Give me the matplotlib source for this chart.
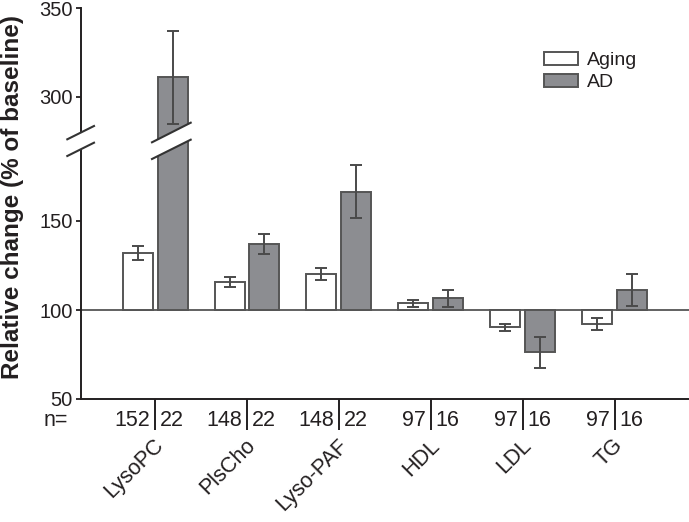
import matplotlib
matplotlib.use("Agg")
import matplotlib.pyplot as plt
import matplotlib.transforms as mtransforms
from matplotlib.lines import Line2D
from matplotlib.patches import Polygon, Patch

plt.rcParams['font.family'] = ['Liberation Sans', 'DejaVu Sans']

categories = ['LysoPC', 'PlsCho', 'Lyso-PAF', 'HDL', 'LDL', 'TG']
aging = [132.0, 115.5, 120.4, 103.8, 90.2, 92.3]
aging_err = [3.7, 2.8, 3.3, 2.0, 2.0, 3.4]
ad = [311.0, 137.2, 166.5, 106.6, 76.2, 111.2]
ad_err = [26.0, 5.7, 15.0, 4.7, 8.7, 9.1]
n_aging = [152, 148, 148, 97, 97, 97]
n_ad = [22, 22, 22, 16, 16, 16]

W, H = 689, 522
INK = '#231f20'
EDGE = '#555555'
GRAY = '#8c8d91'


def px(x, y):
    # pixel position (from top-left) -> figure fraction
    return (x / W, 1 - y / H)


fig = plt.figure(figsize=(W / 100, H / 100), dpi=100)

left = 80.7
y_break = 140.5
y_bottom = 399
scale = 1.78  # pixels per unit
ax_lo = fig.add_axes([left / W, (H - y_bottom) / H, (W - left) / W, (y_bottom - y_break) / H])
ax_hi = fig.add_axes([left / W, (H - y_break) / H, (W - left) / W, (y_break - 8) / H])

x = list(range(len(categories)))
off = 0.19
bw = 0.326
xa = [i - off for i in x]
xd = [i + off for i in x]

for ax in (ax_lo, ax_hi):
    ax.bar(xa, [v - 100 for v in aging], bottom=100, width=bw, color='white',
           edgecolor=EDGE, linewidth=1.4, zorder=2, label='Aging')
    ax.bar(xd, [v - 100 for v in ad], bottom=100, width=bw, color=GRAY,
           edgecolor=EDGE, linewidth=1.4, zorder=2, label='AD')
    ax.errorbar(xa, aging, yerr=aging_err, fmt='none', ecolor='#4a4a4a',
                elinewidth=1.4, capsize=4.1, capthick=1.4, zorder=3)
    ax.errorbar(xd, ad, yerr=ad_err, fmt='none', ecolor='#4a4a4a',
                elinewidth=1.4, capsize=4.1, capthick=1.4, zorder=3)
    ax.set_xlim(-0.81, 5.81)
    ax.spines['top'].set_visible(False)
    ax.spines['right'].set_visible(False)
    ax.spines['left'].set_color(INK)
    ax.spines['left'].set_linewidth(1.4)
    ax.spines['bottom'].set_color(INK)
    ax.spines['bottom'].set_linewidth(1.4)
    ax.tick_params(axis='y', direction='out', length=3.6, width=1.3,
                   color=INK, labelsize=14.5, labelcolor=INK, pad=2)

ax_lo.axhline(100, color='#555555', linewidth=1.3, zorder=1)
ax_lo.set_ylim(50, 50 + (y_bottom - y_break) / scale)
ax_lo.set_yticks([50, 100, 150])
ax_hi.set_ylim(350 - (y_break - 8) / scale, 350)
ax_hi.set_yticks([300, 350])
ax_hi.spines['bottom'].set_visible(False)
ax_hi.set_xticks([])

ax_lo.set_xticks(x)
ax_lo.set_xticklabels([])
ax_lo.tick_params(axis='x', direction='out', length=22, width=1.4, color=INK)

trans = mtransforms.blended_transform_factory(ax_lo.transData, ax_lo.transAxes)
dy = 1 / (y_bottom - y_break)
for i in x:
    ax_lo.text(i - 0.055, -21 * dy, str(n_aging[i]), transform=trans, ha='right',
               va='center', fontsize=15.5, color=INK)
    ax_lo.text(i + 0.055, -21 * dy, str(n_ad[i]), transform=trans, ha='left',
               va='center', fontsize=15.5, color=INK)
    ax_lo.text(i - 0.02, -36 * dy, categories[i], transform=trans, ha='right',
               va='top', rotation=45, rotation_mode='anchor', fontsize=15.5, color=INK)

fig.text(*px(44, 421), 'n=', ha='left', va='center', fontsize=15.5, color=INK)
fig.text(*px(13, 197), 'Relative change (% of baseline)', rotation=90,
         ha='center', va='center', fontsize=17.5, fontweight='bold', color=INK)

# axis break marks
def break_mark(x0, x1, up0, up1, lo0, lo1):
    poly = Polygon([px(x0, up0), px(x1, up1), px(x1, lo1), px(x0, lo0)],
                   closed=True, facecolor='white', edgecolor='none',
                   transform=fig.transFigure)
    fig.add_artist(poly)
    for a, b in ((up0, up1), (lo0, lo1)):
        p0, p1 = px(x0, a), px(x1, b)
        fig.add_artist(Line2D([p0[0], p1[0]], [p0[1], p1[1]], color='#333333',
                              linewidth=1.5, transform=fig.transFigure))


break_mark(67.3, 94.0, 139.3, 126.0, 156.0, 142.7)
break_mark(152.0, 190.7, 142.3, 122.7, 159.0, 139.7)

handles = [Patch(facecolor='white', edgecolor=EDGE, linewidth=1.4),
           Patch(facecolor=GRAY, edgecolor=EDGE, linewidth=1.4)]
fig.legend(handles, ['Aging', 'AD'], loc='upper left',
           bbox_to_anchor=px(544, 52), bbox_transform=fig.transFigure,
           frameon=False, borderpad=0, borderaxespad=0, handlelength=1.75,
           handleheight=0.62, handletextpad=0.45, labelspacing=0.25,
           fontsize=14, labelcolor=INK)

fig.savefig('out.png', dpi=100)
